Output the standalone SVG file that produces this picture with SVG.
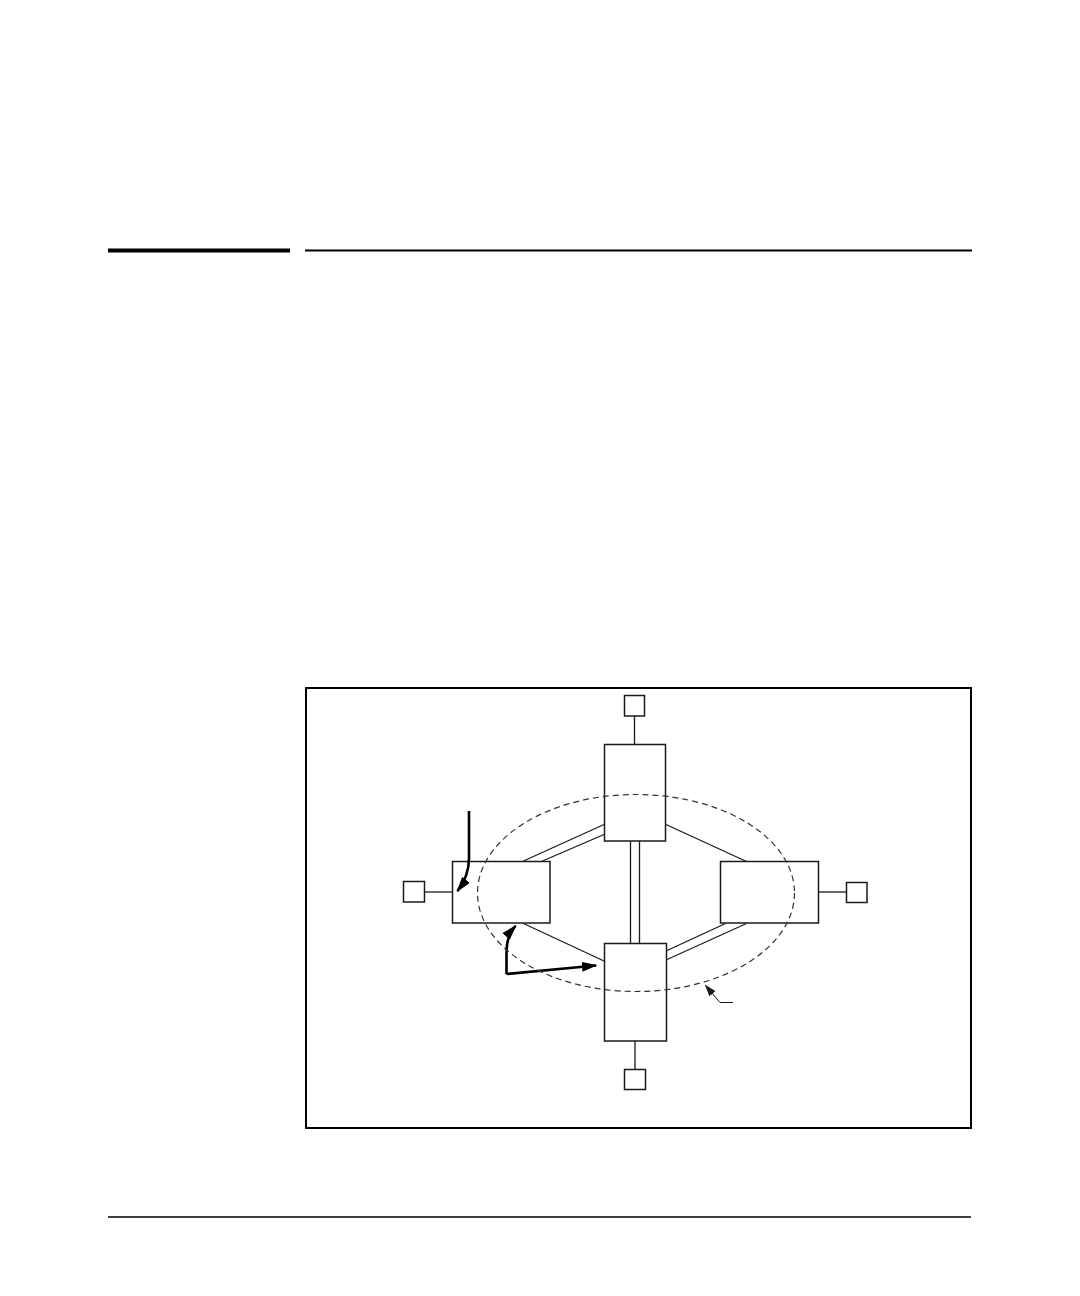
<svg xmlns="http://www.w3.org/2000/svg" width="1080" height="1296" viewBox="0 0 1080 1296">
<style>
.box{fill:#fff;stroke:#1a1a1a;stroke-width:1.5}
.ln{fill:none;stroke:#1a1a1a;stroke-width:1.3}
.arr{fill:none;stroke:#000;stroke-width:2.6}
</style>
<defs>
<marker id="ah" viewBox="0 0 10 10" refX="9" refY="5" markerWidth="6" markerHeight="3.8" markerUnits="strokeWidth" orient="auto" preserveAspectRatio="none">
<path d="M0,0 L10,5 L0,10 z" fill="#000"/>
</marker>
<marker id="ahs" viewBox="0 0 10 10" refX="9" refY="5" markerWidth="12" markerHeight="8" markerUnits="strokeWidth" orient="auto" preserveAspectRatio="none">
<path d="M0,0 L10,5 L0,10 z" fill="#1a1a1a"/>
</marker>
</defs>
<rect width="1080" height="1296" fill="#fff"/>
<g id="header">
<line x1="108" y1="250.5" x2="290" y2="250.5" stroke="#000" stroke-width="4"/>
<line x1="305" y1="250.5" x2="972" y2="250.5" stroke="#000" stroke-width="2"/>
</g>
<g id="footer">
<line x1="108" y1="1217" x2="971" y2="1217" stroke="#000" stroke-width="1.3"/>
</g>
<g id="frame">
<rect x="306" y="688" width="665" height="440" fill="none" stroke="#000" stroke-width="2"/>
</g>
<g id="node-top">
<rect class="box" x="604.5" y="744.5" width="61" height="96.5"/>
</g>
<g id="node-top-end">
<rect class="box" x="624.5" y="695.5" width="20" height="20.5"/>
</g>
<g id="node-left">
<rect class="box" x="452.5" y="861.5" width="97.5" height="61.5"/>
</g>
<g id="node-left-end">
<rect class="box" x="403.5" y="881.5" width="21" height="20.5"/>
</g>
<g id="node-right">
<rect class="box" x="720.5" y="861.5" width="98" height="61.5"/>
</g>
<g id="node-right-end">
<rect class="box" x="846.5" y="882.5" width="20.5" height="20"/>
</g>
<g id="node-bottom">
<rect class="box" x="604.5" y="943.5" width="62" height="97.5"/>
</g>
<g id="node-bottom-end">
<rect class="box" x="624.5" y="1069.5" width="21" height="20"/>
</g>
<g id="connectors">
<line class="ln" x1="634.5" y1="716" x2="634.5" y2="744"/>
<line class="ln" x1="425" y1="892" x2="452" y2="892"/>
<line class="ln" x1="819" y1="892" x2="846" y2="892"/>
<line class="ln" x1="635" y1="1041" x2="635" y2="1069"/>
<line class="ln" x1="523.5" y1="861" x2="604" y2="824.5"/>
<line class="ln" x1="542.5" y1="861" x2="604" y2="834.5"/>
<line class="ln" x1="666" y1="824.5" x2="746.5" y2="861.5"/>
<line class="ln" x1="630.5" y1="841" x2="630.5" y2="943"/>
<line class="ln" x1="639.5" y1="841" x2="639.5" y2="943"/>
<line class="ln" x1="523.5" y1="923.5" x2="604" y2="961"/>
<line class="ln" x1="666" y1="951" x2="725.5" y2="923.5"/>
<line class="ln" x1="666" y1="960" x2="746.5" y2="923.5"/>
<path class="arr" d="M469,811 L469,858 Q469,876 457.5,891" marker-end="url(#ah)"/>
<path class="arr" d="M506.5,974 L506.5,952 Q506.5,936 515.5,926" marker-end="url(#ah)"/>
<path class="arr" d="M506.5,974 L596,965.5" marker-end="url(#ah)"/>
<path fill="none" stroke="#1a1a1a" stroke-width="1" d="M733,1002.5 L720,1002.5 L705.5,985.5" marker-end="url(#ahs)"/>
</g>
<g id="ring">
<ellipse cx="636" cy="893" rx="158.5" ry="98.5" fill="none" stroke="#333" stroke-width="1.2" stroke-dasharray="6 4"/>
</g>
</svg>
